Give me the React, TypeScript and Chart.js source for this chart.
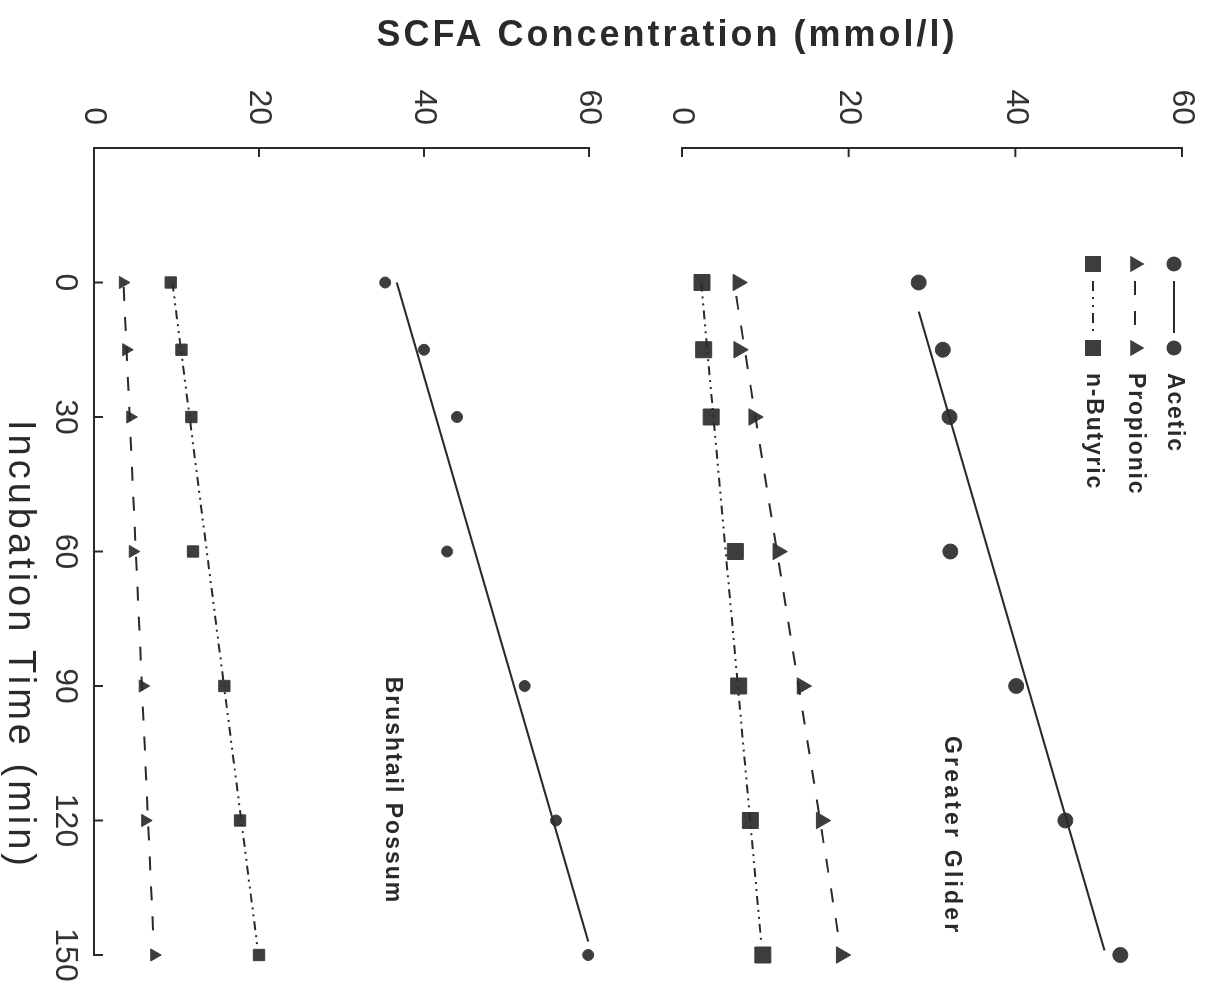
import React, { useEffect, useRef } from "react";
import { Chart, registerables } from "chart.js";

Chart.register(...registerables);

// ---- data ----
const times = [0, 15, 30, 60, 90, 120, 150];
const timeTicks = [0, 30, 60, 90, 120, 150];
const concTicks = [0, 20, 40, 60];

const gliderAcetic = [28.4, 31.3, 32.1, 32.2, 40.1, 46.0, 52.6];
const gliderPropionic = [6.7, 6.8, 8.6, 11.5, 14.4, 16.7, 19.1];
const gliderButyric = [2.4, 2.6, 3.5, 6.4, 6.8, 8.2, 9.7];

const possumAcetic = [35.3, 40.0, 44.0, 42.8, 52.2, 56.0, 59.9];
const possumPropionic = [3.5, 3.9, 4.4, 4.7, 5.9, 6.2, 7.3];
const possumButyric = [9.3, 10.6, 11.8, 12.0, 15.8, 17.7, 20.0];

// regression lines: [start, end]
const gliderAceticFitT = [6.5, 149];
const gliderAceticFitV = [28.4, 50.7];
const gliderPropionicFitT = [3, 146];
const gliderPropionicFitV = [6.5, 18.8];
const gliderButyricFitT = [0, 147];
const gliderButyricFitV = [2.3, 9.5];
const possumAceticFitT = [0, 147];
const possumAceticFitV = [36.7, 59.9];
const possumPropionicFitT = [1, 146];
const possumPropionicFitV = [3.6, 7.2];
const possumButyricFitT = [0, 148];
const possumButyricFitV = [9.5, 19.8];

const legendNames = ["Acetic", "Propionic", "n-Butyric"];
const yTitle = "SCFA Concentration (mmol/l)";
const xTitle = "Incubation Time (min)";
const gliderLabel = "Greater Glider";
const possumLabel = "Brushtail Possum";

// ---- styles ----
const FONT = '"Liberation Sans", Arial, Helvetica, sans-serif';
const INK = "#2a2a2a";
const MARK = "#3d3d3d";
const DASH_PROP = [14, 16];
const DASH_BUT = [9, 5, 2, 5, 2, 5];

const pts = (ts: number[], vs: number[]) => ts.map((t, i) => ({ x: t, y: vs[i] }));

function pointSet(label: string, vs: number[], axis: string, style: string, r: number) {
  return {
    label,
    data: pts(times, vs),
    yAxisID: axis,
    showLine: false,
    clip: false,
    pointStyle: style,
    pointRadius: r,
    pointHoverRadius: r,
    pointBackgroundColor: MARK,
    pointBorderColor: MARK,
    pointBorderWidth: 1,
  };
}

function fitSet(label: string, ts: number[], vs: number[], axis: string, dash: number[]) {
  return {
    label,
    data: pts(ts, vs),
    yAxisID: axis,
    showLine: true,
    clip: false,
    borderColor: INK,
    borderWidth: 2,
    borderDash: dash,
    pointRadius: 0,
    fill: false,
    tension: 0,
  };
}

function drawMarker(ctx: CanvasRenderingContext2D, style: string, x: number, y: number, r: number) {
  ctx.beginPath();
  if (style === "circle") {
    ctx.arc(x, y, r, 0, Math.PI * 2);
  } else if (style === "rect") {
    const s = r * Math.SQRT1_2;
    ctx.rect(x - s, y - s, 2 * s, 2 * s);
  } else {
    const a = (2 * Math.PI) / 3;
    ctx.moveTo(x, y - r);
    ctx.lineTo(x + Math.sin(a) * r, y - Math.cos(a) * r);
    ctx.lineTo(x + Math.sin(2 * a) * r, y - Math.cos(2 * a) * r);
    ctx.closePath();
  }
  ctx.fill();
}

const decorPlugin = {
  id: "decor",
  afterDraw(chart: any) {
    const ctx: CanvasRenderingContext2D = chart.ctx;
    const { x, yG, yP } = chart.scales;
    ctx.save();
    ctx.strokeStyle = INK;
    ctx.lineWidth = 2;
    // inward tick marks
    [yG, yP].forEach((s: any) => {
      concTicks.forEach((v) => {
        const p = s.getPixelForValue(v);
        ctx.beginPath();
        ctx.moveTo(s.right, p);
        ctx.lineTo(s.right + 9, p);
        ctx.stroke();
      });
    });
    timeTicks.forEach((t) => {
      const p = x.getPixelForValue(t);
      ctx.beginPath();
      ctx.moveTo(p, x.top);
      ctx.lineTo(p, x.top - 9);
      ctx.stroke();
    });

    ctx.fillStyle = INK;
    // y title (spanning both panels)
    ctx.save();
    ctx.translate(36, 542);
    ctx.rotate(-Math.PI / 2);
    ctx.font = `bold 36px ${FONT}`;
    (ctx as any).letterSpacing = "3px";
    ctx.textAlign = "center";
    ctx.textBaseline = "middle";
    ctx.fillText(yTitle, 0, 0);
    ctx.restore();

    // x title
    ctx.save();
    ctx.font = `38px ${FONT}`;
    (ctx as any).letterSpacing = "4px";
    ctx.textAlign = "center";
    ctx.textBaseline = "middle";
    ctx.fillText(xTitle, 645, 1190);
    ctx.restore();

    // panel labels, placed in data units
    ctx.save();
    ctx.font = `bold 23px ${FONT}`;
    (ctx as any).letterSpacing = "3.2px";
    ctx.textAlign = "center";
    ctx.textBaseline = "middle";
    ctx.fillText(gliderLabel, x.getPixelForValue(123.4), yG.getPixelForValue(32.3));
    (ctx as any).letterSpacing = "2px";
    ctx.fillText(possumLabel, x.getPixelForValue(113.3), yP.getPixelForValue(36.2));
    ctx.restore();

    // legend
    const rows = [
      { style: "circle", r: 7.5, dash: [] as number[] },
      { style: "triangle", r: 9.5, dash: DASH_PROP },
      { style: "rect", r: 11.3, dash: [10, 6, 2, 6, 2, 6] },
    ];
    const rowV = [35, 74, 116];
    rows.forEach((row, i) => {
      const v = rowV[i];
      ctx.fillStyle = MARK;
      drawMarker(ctx, row.style, 264, v, row.r);
      drawMarker(ctx, row.style, 348, v, row.r);
      ctx.save();
      ctx.strokeStyle = INK;
      ctx.lineWidth = 2;
      ctx.setLineDash(row.dash);
      ctx.beginPath();
      ctx.moveTo(281, v);
      ctx.lineTo(333, v);
      ctx.stroke();
      ctx.restore();
      ctx.save();
      ctx.fillStyle = INK;
      ctx.font = `bold 23px ${FONT}`;
      (ctx as any).letterSpacing = "1.8px";
      ctx.textAlign = "left";
      ctx.textBaseline = "middle";
      ctx.fillText(legendNames[i], 373, v);
      ctx.restore();
    });
    ctx.restore();
  },
};

export default function App() {
  const ref = useRef<HTMLCanvasElement | null>(null);

  useEffect(() => {
    if (!ref.current) return;
    const tickFont = { family: FONT, size: 32 };
    const concAxis = (weight: number) => ({
      type: "linear" as const,
      position: "left" as const,
      stack: "conc",
      stackWeight: weight,
      min: 0,
      max: 60,
      grid: { display: false },
      border: { display: true, color: INK, width: 2 },
      ticks: { stepSize: 20, font: tickFont, color: "#333", padding: 15 },
      afterFit: (s: any) => {
        s.width = 148;
        s.paddingTop = 0;
        s.paddingBottom = 0;
      },
    });
    const chart = new Chart(ref.current, {
      type: "scatter",
      data: {
        datasets: [
          fitSet("G Acetic fit", gliderAceticFitT, gliderAceticFitV, "yG", []),
          fitSet("G Propionic fit", gliderPropionicFitT, gliderPropionicFitV, "yG", DASH_PROP),
          fitSet("G Butyric fit", gliderButyricFitT, gliderButyricFitV, "yG", DASH_BUT),
          fitSet("P Acetic fit", possumAceticFitT, possumAceticFitV, "yP", []),
          fitSet("P Propionic fit", possumPropionicFitT, possumPropionicFitV, "yP", DASH_PROP),
          fitSet("P Butyric fit", possumButyricFitT, possumButyricFitV, "yP", DASH_BUT),
          pointSet("G Acetic", gliderAcetic, "yG", "circle", 7.5),
          pointSet("G Propionic", gliderPropionic, "yG", "triangle", 9.5),
          pointSet("G Butyric", gliderButyric, "yG", "rect", 11.3),
          pointSet("P Acetic", possumAcetic, "yP", "circle", 5.5),
          pointSet("P Propionic", possumPropionic, "yP", "triangle", 7),
          pointSet("P Butyric", possumButyric, "yP", "rect", 8),
        ] as any,
      },
      options: {
        animation: false,
        responsive: false,
        devicePixelRatio: 1,
        layout: { padding: { left: 0, right: 28, top: 27, bottom: 0 } },
        plugins: { legend: { display: false }, tooltip: { enabled: false } },
        scales: {
          x: {
            type: "linear",
            position: "bottom",
            min: -30,
            max: 150,
            grid: { display: false },
            border: { display: true, color: INK, width: 2 },
            ticks: { stepSize: 30, font: tickFont, color: "#333", padding: 2, maxRotation: 0 },
            afterBuildTicks: (s: any) => {
              s.ticks = s.ticks.filter((t: any) => t.value >= 0);
            },
            afterFit: (s: any) => {
              s.height = 94;
              s.paddingLeft = 0;
              s.paddingRight = 0;
            },
          },
          yP: { ...concAxis(495), weight: 1 },
          gap: {
            type: "linear",
            position: "left",
            stack: "conc",
            stackWeight: 93,
            weight: 2,
            min: 0,
            max: 1,
            grid: { display: false },
            border: { display: false },
            ticks: { display: false },
            afterFit: (s: any) => {
              s.width = 148;
              s.paddingTop = 0;
              s.paddingBottom = 0;
            },
          },
          yG: { ...concAxis(500), weight: 3 },
        } as any,
      },
      plugins: [decorPlugin],
    });
    return () => chart.destroy();
  }, []);

  return (
    <div
      style={{
        position: "fixed",
        left: 0,
        top: 0,
        width: 1209,
        height: 983,
        overflow: "hidden",
        background: "#ffffff",
      }}
    >
      <div
        style={{
          position: "absolute",
          left: 0,
          top: 0,
          width: 983,
          height: 1209,
          transformOrigin: "0 0",
          transform: "translateX(1209px) rotate(90deg)",
        }}
      >
        <canvas ref={ref} width={983} height={1209} style={{ width: 983, height: 1209, display: "block" }} />
      </div>
    </div>
  );
}
